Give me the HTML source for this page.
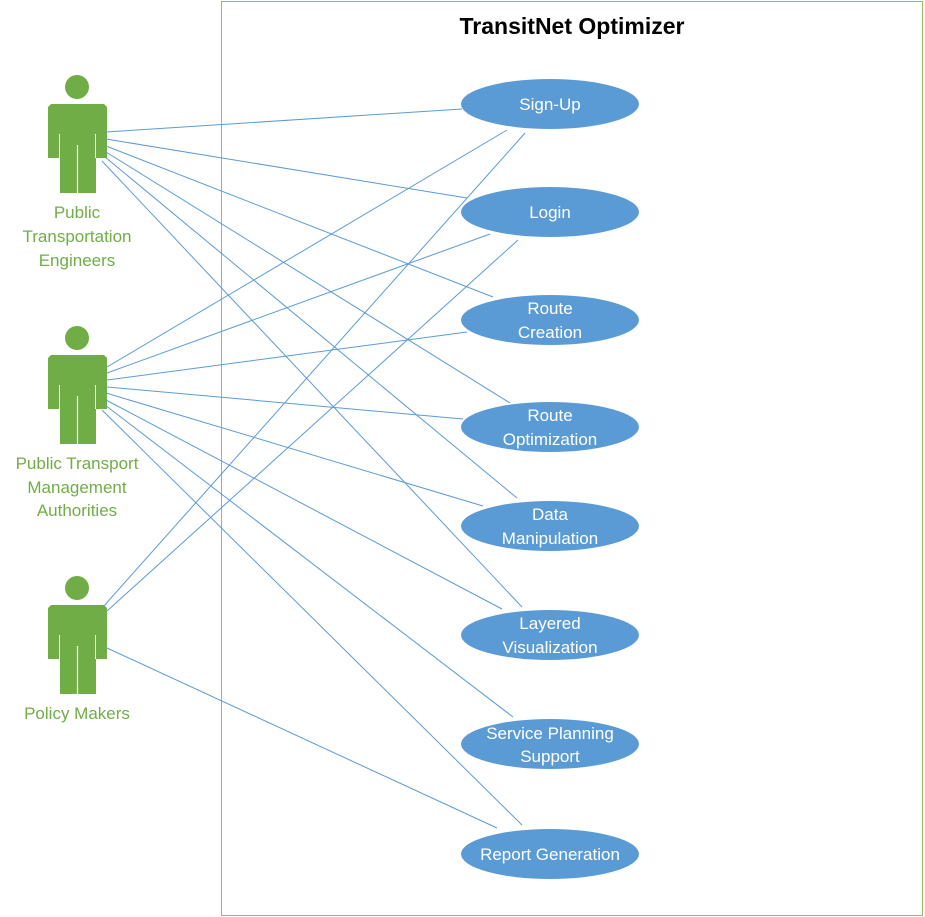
<!DOCTYPE html>
<html><head><meta charset="utf-8"><style>
html,body{margin:0;padding:0;background:#fff;}
svg{display:block;}
text{font-family:"Liberation Sans",sans-serif;}
</style></head><body>
<svg width="925" height="917" viewBox="0 0 925 917" xmlns="http://www.w3.org/2000/svg">
<rect x="221.5" y="1.5" width="701" height="914" fill="none" stroke="#8fbf6a" stroke-width="1"/>
<text x="572" y="34" font-size="23" font-weight="bold" text-anchor="middle" fill="#000">TransitNet Optimizer</text>
<defs>
<g id="actor">
<circle cx="77" cy="0" r="12" fill="#70ad47"/>
<path d="M51,17 H104 L107,20 V71 H96 V106 H60 V71 H48 V20 Z" fill="#70ad47"/>
<line x1="59.5" y1="47" x2="59.5" y2="71" stroke="#fff" stroke-width="1"/>
<line x1="95.5" y1="47" x2="95.5" y2="71" stroke="#fff" stroke-width="1"/>
<line x1="77.5" y1="58" x2="77.5" y2="106" stroke="#fff" stroke-width="1.2"/>
</g>
</defs>
<use href="#actor" y="87"/>
<use href="#actor" y="338"/>
<use href="#actor" y="588"/>
<g fill="#70ad47" font-size="17" text-anchor="middle">
<text x="77" y="218">Public</text>
<text x="77" y="242">Transportation</text>
<text x="77" y="266">Engineers</text>
<text x="77" y="469">Public Transport</text>
<text x="77" y="493">Management</text>
<text x="77" y="516">Authorities</text>
<text x="77" y="719">Policy Makers</text>
</g>
<g stroke="#5b9bd5" stroke-width="1" fill="none">
<line x1="106" y1="132" x2="462" y2="109"/>
<line x1="106" y1="139" x2="467" y2="198"/>
<line x1="106" y1="146" x2="493" y2="297"/>
<line x1="106" y1="152" x2="510" y2="403"/>
<line x1="105" y1="157" x2="517" y2="498"/>
<line x1="102" y1="161" x2="522" y2="607"/>
<line x1="107" y1="367" x2="507" y2="130"/>
<line x1="107" y1="373" x2="490" y2="234"/>
<line x1="107" y1="380" x2="467" y2="332"/>
<line x1="107" y1="387" x2="463" y2="419"/>
<line x1="106" y1="393" x2="483" y2="506"/>
<line x1="106" y1="400" x2="502" y2="609"/>
<line x1="105" y1="405" x2="513" y2="717"/>
<line x1="102" y1="410" x2="522" y2="825"/>
<line x1="103" y1="607" x2="525" y2="133"/>
<line x1="107" y1="611" x2="518" y2="240"/>
<line x1="107" y1="648" x2="497" y2="828"/>
</g>
<g fill="#5b9bd5">
<ellipse cx="550" cy="104" rx="89" ry="25"/>
<ellipse cx="550" cy="212" rx="89" ry="25"/>
<ellipse cx="550" cy="320" rx="89" ry="25"/>
<ellipse cx="550" cy="427" rx="89" ry="25"/>
<ellipse cx="550" cy="526" rx="89" ry="25"/>
<ellipse cx="550" cy="635" rx="89" ry="25"/>
<ellipse cx="550" cy="744" rx="89" ry="25"/>
<ellipse cx="550" cy="854" rx="89" ry="25"/>
</g>
<g fill="#fff" font-size="17" text-anchor="middle">
<text x="550" y="110">Sign-Up</text>
<text x="550" y="218">Login</text>
<text x="550" y="314">Route</text>
<text x="550" y="338">Creation</text>
<text x="550" y="421">Route</text>
<text x="550" y="445">Optimization</text>
<text x="550" y="520">Data</text>
<text x="550" y="544">Manipulation</text>
<text x="550" y="629">Layered</text>
<text x="550" y="653">Visualization</text>
<text x="550" y="739">Service Planning</text>
<text x="550" y="762">Support</text>
<text x="550" y="860">Report Generation</text>
</g>
</svg>
</body></html>
